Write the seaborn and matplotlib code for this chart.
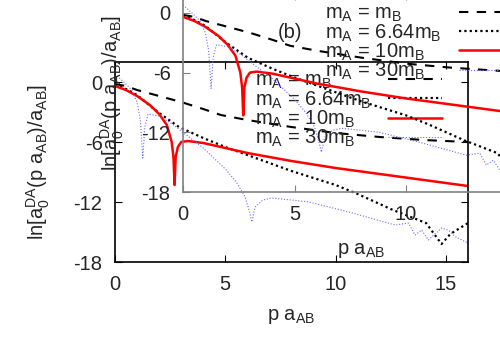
import pandas as pd
import matplotlib
matplotlib.use('Agg')
import matplotlib.pyplot as plt
import seaborn as sns

sns.set_style('ticks')
plt.rcParams['font.family'] = ['Liberation Sans', 'DejaVu Sans']
plt.rcParams['mathtext.default'] = 'regular'
plt.rcParams['axes.unicode_minus'] = False

# values: p a_AB vs ln[a0(p)/a_AB]
p_equal = [0, 0.5, 1, 2, 3, 4, 4.8, 6, 8, 10, 12, 14, 16]
v_equal = [-0.2, -0.4, -0.8, -1.4, -2.0, -2.7, -3.3, -3.8, -4.5, -5.1, -5.5, -5.8, -6.0]

p_664 = [0, 0.5, 1, 1.6, 2, 2.9, 4, 5, 6, 8, 10, 11, 12.6, 14.1, 14.8, 15.2, 16]
v_664 = [-0.3, -0.7, -1.3, -2.4, -3.1, -4.5, -5.6, -6.5, -7.3, -8.9, -10.3, -11.2, -12.8, -14.1, -16.2, -15.2, -14.1]

p_10 = [0, 0.5, 1, 1.58, 2, 2.35, 2.57, 2.65, 2.7, 2.75, 2.85, 3.0, 3.3, 4, 5, 6, 8, 10, 12, 14, 16]
v_10 = [-0.4, -0.8, -1.4, -2.3, -3.2, -4.3, -6.0, -7.5, -10.3, -7.5, -6.5, -6.0, -5.9, -6.1, -6.6, -7.1, -7.9, -8.6, -9.2, -9.8, -10.4]

p_30 = [0, 0.4, 0.76, 1.0, 1.15, 1.26, 1.35, 1.5, 2, 2.6, 3, 4, 5, 5.5, 5.9, 6.1, 6.2, 6.35, 6.7, 7.1, 8, 8.8,
        10.6, 12.7, 13.3, 13.6, 13.9, 14.2, 14.8, 15.1, 15.45, 16]
v_30 = [0.8, 0.0, -0.8, -2.0, -3.8, -7.6, -4.5, -3.2, -3.4, -4.2, -4.9, -6.6, -8.7, -10.0, -11.5, -13.0, -14.0, -12.5, -11.8, -11.6, -11.8, -12.0,
        -13.0, -14.3, -14.1, -15.3, -14.8, -15.8, -14.6, -14.8, -15.5, -16.1]

labels = ['m$_A$ = m$_B$', 'm$_A$ = 6.64m$_B$', 'm$_A$ = 10m$_B$', 'm$_A$ = 30m$_B$']

frames = []
for lab, p, v in zip(labels, [p_equal, p_664, p_10, p_30], [v_equal, v_664, v_10, v_30]):
    frames.append(pd.DataFrame({'p': p, 'v': v, 'mass': lab}))
df = pd.concat(frames, ignore_index=True)

palette = dict(zip(labels, ['black', 'black', 'red', '#6a6aff']))
dashes = dict(zip(labels, [(4.5, 4), (1, 1.4), '', (1, 1.6)]))
sizes = dict(zip(labels, [1.5, 1.6, 1.8, 0.8]))

fig = plt.figure(figsize=(5, 3.5), dpi=100)
ax_a = fig.add_axes([0.23, 0.2514, 0.706, 0.5714])
ax_b = fig.add_axes([0.366, 0.4514, 0.714, 0.5686])


def draw(ax, frame_color, key_top):
    ax.patch.set_visible(False)
    sns.lineplot(data=df, x='p', y='v', hue='mass', style='mass', size='mass',
                 palette=palette, dashes=dashes, sizes=sizes, hue_order=labels,
                 style_order=labels, size_order=labels, legend=False, ax=ax)
    ax.set_xlim(0, 16)
    ax.set_ylim(-18, 2)
    ax.set_xticks([0, 5, 10, 15])
    ax.set_yticks([0, -6, -12, -18])
    ax.tick_params(direction='in', top=True, right=True, length=5, labelsize=14.5,
                   pad=9, color=frame_color)
    for s in ax.spines.values():
        s.set_color(frame_color)
        s.set_linewidth(1.2)
    ax.set_xlabel('p a$_{AB}$', fontsize=14.5)
    ax.set_ylabel('ln[a$_0^{DA}$(p a$_{AB}$)/a$_{AB}$]', fontsize=14.5)

    lines = ax.get_lines()[:4]
    key_txt = ax.legend(lines, labels, loc='upper left', bbox_to_anchor=(0.397, key_top),
                        frameon=False, handlelength=0, handletextpad=0, labelspacing=-0.1,
                        borderpad=0, borderaxespad=0, fontsize=14.5)
    for h in key_txt.legend_handles:
        h.set_visible(False)
    ax.add_artist(key_txt)
    ax.legend(lines, labels, loc='upper left', bbox_to_anchor=(0.772, key_top),
              frameon=False, handlelength=2.7, handletextpad=0, labelspacing=-0.1,
              borderpad=0, borderaxespad=0, fontsize=14.5, labelcolor='none')


draw(ax_a, 'black', 0.955)
ax_a.xaxis.set_label_coords(0.5, -0.225)
ax_a.yaxis.set_label_coords(-0.178, 0.5)

draw(ax_b, '0.5', 0.945)
ax_b.xaxis.set_label_coords(0.5, -0.245)
ax_b.yaxis.set_label_coords(-0.16, 0.5)
ax_b.text(0.30, 0.80, '(b)', transform=ax_b.transAxes, fontsize=14.5, ha='center', va='center')

fig.savefig('out.png', dpi=100)
